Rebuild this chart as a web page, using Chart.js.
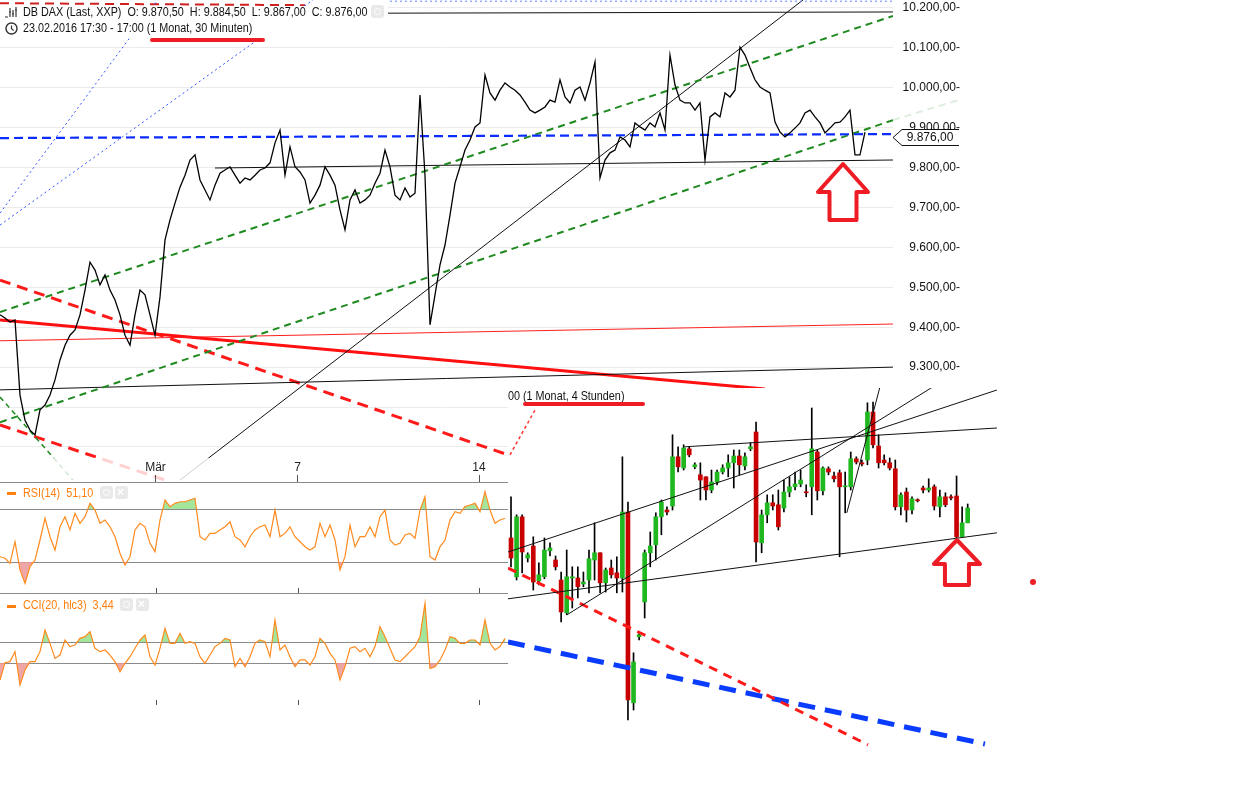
<!DOCTYPE html>
<html>
<head>
<meta charset="utf-8">
<script src="https://cdn.jsdelivr.net/npm/chart.js@4.4.0/dist/chart.umd.min.js"></script>
<style>
body{margin:0;background:#fff;width:1234px;height:812px;overflow:hidden;font-family:"Liberation Sans",Arial,sans-serif;position:relative;}
canvas{position:absolute;}
.t{position:absolute;font-size:12px;line-height:14px;color:#111;white-space:pre;transform:scaleX(0.9);transform-origin:left center;}
.o{color:#ff7f0e;}
.ic{position:absolute;width:13px;height:13px;background:#e9e9e9;border-radius:3px;}
.ic i{position:absolute;left:3px;top:3px;width:5px;height:5px;border:1.5px solid #fff;border-radius:50%;}
.ic b{position:absolute;left:2px;top:0;color:#fff;font-size:12px;line-height:13px;font-weight:bold;}
.dash{position:absolute;width:9px;height:3px;background:#ff7f0e;}
.ul{position:absolute;height:4px;background:#ee1c24;border-radius:2px;}
</style>
</head>
<body>
<canvas id="main" width="960" height="482" style="left:0;top:0"></canvas>
<canvas id="rsi" width="508" height="135" style="left:0;top:458px"></canvas>
<canvas id="cci" width="508" height="112" style="left:0;top:593px"></canvas>
<canvas id="inset" width="492" height="362" style="left:508px;top:388px;background:#fff"></canvas>

<div style="position:absolute;left:0;top:6px;width:388px;height:32px;background:#fff"></div>
<svg style="position:absolute;left:4px;top:5px" width="16" height="14"><path d="M1 12h3M6 3v9M9 5v7M12 2v10M5 7h2M8 9h2M11 5h2" stroke="#333" stroke-width="1.2" fill="none"/></svg>
<div class="t" style="left:23px;top:5px">DB DAX (Last, XXP)  O: 9.870,50  H: 9.884,50  L: 9.867,00  C: 9.876,00</div>
<div class="ic" style="left:371px;top:5px"><i></i></div>
<svg style="position:absolute;left:4px;top:21px" width="15" height="15"><circle cx="7.5" cy="7.5" r="5.5" stroke="#333" stroke-width="1.4" fill="none"/><path d="M7.5 4.5v3.3l2.2 1.6" stroke="#333" stroke-width="1.2" fill="none"/></svg>
<div class="t" style="left:23px;top:21px">23.02.2016 17:30 - 17:00 (1 Monat, 30 Minuten)</div>
<div class="ul" style="left:150px;top:38px;width:115px"></div>

<div class="dash" style="left:7px;top:492px"></div>
<div class="t o" style="left:23px;top:486px">RSI(14)  51,10</div>
<div class="ic" style="left:100px;top:486px"><i></i></div>
<div class="ic" style="left:115px;top:486px"><b>×</b></div>

<div class="dash" style="left:7px;top:605px"></div>
<div class="t o" style="left:23px;top:598px">CCI(20, hlc3)  3,44</div>
<div class="ic" style="left:120px;top:598px"><i></i></div>
<div class="ic" style="left:136px;top:598px"><b>×</b></div>

<div style="position:absolute;left:508px;top:388px;width:140px;height:16px;overflow:hidden">
  <div class="t" style="left:-3px;top:1px">:00 (1 Monat, 4 Stunden)</div>
</div>
<div class="ul" style="left:523px;top:402px;width:122px"></div>
<div style="position:absolute;left:1030px;top:579px;width:6px;height:6px;border-radius:50%;background:#ee1c24"></div>

<script>
// 30-minute closes, DB DAX (one value per plotted step)
const priceClose = [
  9431, 9423, 9413, 9418, 9230, 9167, 9142, 9130, 9193, 9205,
  9230, 9268, 9318, 9355, 9380, 9393, 9431, 9493, 9563, 9543,
  9506, 9531, 9493, 9468, 9431, 9380, 9355, 9431, 9493, 9481,
  9431, 9380, 9476, 9619, 9669, 9711, 9751, 9781, 9819, 9832,
  9769, 9744, 9719, 9756, 9786, 9794, 9802, 9781, 9761, 9774,
  9769, 9781, 9794, 9799, 9812, 9862, 9894, 9781, 9852, 9802,
  9789, 9769, 9711, 9731, 9756, 9802, 9781, 9756, 9694, 9644,
  9719, 9744, 9711, 9719, 9731, 9761, 9786, 9844, 9802, 9731,
  9719, 9749, 9726, 9736, 9982, 9781, 9406, 9481, 9556, 9606,
  9681, 9761, 9802, 9844, 9869, 9902, 9912, 10032, 9987, 9969,
  9994, 10012, 10002, 9994, 9982, 9964, 9944, 9937, 9944, 9952,
  9969, 9964, 10020, 9977, 9962, 9994, 10002, 9969, 10012, 10065,
  9774, 9819, 9837, 9844, 9877, 9869, 9852, 9912, 9902, 9894,
  9912, 9902, 9937, 9894, 10082, 10007, 9969, 9962, 9962, 9944,
  9962, 9819, 9927, 9937, 9927, 9987, 9977, 9994, 10102, 10082,
  10050, 10020, 10002, 9994, 9987, 9914, 9889, 9877, 9887, 9899,
  9912, 9937, 9944, 9927, 9912, 9887, 9899, 9912, 9914, 9927,
  9944, 9832, 9832, 9889
];
const priceTicks = [9100, 9200, 9300, 9400, 9500, 9600, 9700, 9800, 9900, 10000, 10100, 10200];
const lastPrice = 9876;

// drawn lines on the 30-min chart: [barFrom, priceFrom, barTo, priceTo]
const mainTrend = [
  [77.6, 10187, 178.6, 10190],
  [0, 9686, 40, 10363],
  [0, 9656, 70, 10287],
  [78, 10217, 178.6, 10217],
  [0, 10212, 61, 10207],
  [0, 9874, 178.6, 9884],
  [0, 9438, 178.6, 10180],
  [0, 9162, 178.6, 9919],
  [178.6, 9919, 191.6, 9969],
  [0, 9225, 14.6, 9017],
  [36, 9017, 160.6, 10220],
  [43, 9799, 178.6, 9819],
  [0, 9243, 178.6, 9300],
  [0, 9366, 178.6, 9408],
  [0, 9418, 153, 9245],
  [0, 9518, 101.6, 9080],
  [0, 9155, 33, 9017]
];
const mainTrendStyle = [
  {color: '#111', width: 1},
  {color: '#3355ff', width: 1, dash: [2, 3]},
  {color: '#3355ff', width: 1, dash: [2, 3]},
  {color: '#6680ff', width: 1, dash: [2, 3]},
  {color: '#d02020', width: 2, dash: [9, 6]},
  {color: '#0a2cff', width: 2.2, dash: [9, 5]},
  {color: '#1f8a1f', width: 2, dash: [7, 5]},
  {color: '#1f8a1f', width: 2, dash: [7, 5]},
  {color: 'rgba(31,138,31,0.15)', width: 2, dash: [7, 5], clip: false},
  {color: '#1f8a1f', width: 1.5, dash: [5, 4]},
  {color: '#111', width: 1},
  {color: '#111', width: 1},
  {color: '#111', width: 1},
  {color: '#ff2020', width: 1},
  {color: '#ff1010', width: 3},
  {color: '#ff1a1a', width: 3, dash: [11, 7]},
  {color: '#ff1a1a', width: 3, dash: [11, 7]}
];
const mainArrowTip = {x: 168.6, y: 9809};

// indicators (same time steps as the lower panels)
const rsiValues = [
  34, 32.8, 29, 45.3, 24, 13.9, 26.5, 31.5, 46.6, 63,
  49.1, 39, 56.6, 64.2, 54.2, 66.7, 59.2, 64.2, 74.3, 69.2,
  59.2, 61.7, 56.6, 49.1, 36.6, 27.7, 34, 54.2, 59.2, 56.6,
  44.1, 37.8, 61.7, 76.8, 71.8, 74.3, 75.5, 75.5, 76.8, 78.1,
  49.1, 46.6, 51.6, 51.6, 54.2, 56.6, 60.4, 49.1, 46.6, 41.5,
  49.1, 54.2, 56.6, 57.9, 49.1, 69.2, 49.1, 51.6, 56.6, 49.1,
  45.3, 41.5, 39, 41.5, 59.2, 49.1, 57.9, 46.6, 24, 34,
  57.9, 41.5, 49.1, 49.1, 56.6, 49.1, 64.2, 69.2, 46.6, 42.8,
  44.1, 50.4, 51.6, 47.9, 69.2, 79.3, 34, 31.5, 41.5, 46.6,
  61.7, 68, 66.7, 71.8, 73, 74.3, 68, 83.1, 69.2, 59.2,
  61.7, 63
];
const cciValues = [
  -262, -97, -87, 8, -310, -167, -87, -87, 8, 214,
  87, -56, -24, 119, 56, 71, 135, 151, 198, 40,
  8, 24, -24, -87, -183, -103, -40, 40, 119, 167,
  -40, -119, 40, 230, 87, 87, 183, 87, 103, 87,
  -40, -103, -24, 56, 87, 135, 119, -135, -56, -135,
  -40, 87, 119, 103, -40, 310, 24, 71, -40, -135,
  -71, -71, -119, -40, 135, 87, -8, -71, -262, -135,
  40, 56, 8, 40, -40, 56, 246, 151, 40, -71,
  -87, -40, 8, 56, 151, 468, -152, -135, -71, 24,
  151, 135, 87, 87, 119, 119, 71, 310, 87, 24,
  56, 135
];
const timeTicks = [31.1, 59.5, 95.8];
const timeTickLabels = ['Mär', '7', '14'];

// 4-hour candles (inset)
const insetOpen = [
  9855, 9758, 9908, 9805, 9835, 9748, 9758, 9823, 9800, 9750,
  9668, 9755, 9755, 9740, 9750, 9800, 9818, 9743, 9780, 9768,
  9755, 9920, 9443, 9608, 9695, 9818, 9838, 9908, 9925, 9935,
  10058, 10030, 10078, 10033, 10013, 10008, 9975, 9995, 10020, 10030,
  10043, 10060, 10035, 10078, 10120, 9843, 9913, 9943, 9938, 9930,
  9970, 9983, 9990, 9970, 9983, 10070, 9973, 10028, 10010, 10018,
  9983, 9983, 10053, 10043, 10050, 10170, 10085, 10050, 10043, 10028,
  9933, 9970, 9925, 9950, 9980, 9975, 9983, 9933, 9958, 9958,
  9960, 9858, 9893
];
const insetHigh = [
  9958, 9913, 9913, 9818, 9858, 9793, 9855, 9843, 9810, 9770,
  9825, 9783, 9783, 9770, 9825, 9893, 9818, 9780, 9800, 9808,
  10058, 9945, 9568, 9618, 9825, 9870, 9918, 9950, 9933, 10113,
  10083, 10088, 10083, 10043, 10043, 10008, 10025, 10025, 10038, 10063,
  10075, 10075, 10068, 10093, 10145, 9925, 9963, 9963, 9975, 10000,
  10008, 10020, 10025, 9988, 10180, 10075, 10033, 10033, 10020, 10025,
  10020, 10070, 10058, 10050, 10193, 10195, 10113, 10063, 10055, 10050,
  9968, 9980, 9958, 9953, 9985, 10003, 9988, 9975, 9968, 9963,
  10010, 9933, 9940
];
const insetLow = [
  9783, 9750, 9768, 9795, 9725, 9738, 9753, 9810, 9775, 9645,
  9663, 9680, 9705, 9733, 9718, 9750, 9718, 9720, 9755, 9718,
  9720, 9400, 9425, 9600, 9655, 9783, 9800, 9863, 9913, 9925,
  10020, 10025, 10058, 10028, 9950, 9950, 9968, 9988, 10015, 10008,
  9980, 10013, 10025, 10073, 9795, 9818, 9893, 9925, 9875, 9920,
  9958, 9975, 9983, 9958, 9913, 9950, 9963, 10013, 9995, 9808,
  9918, 9975, 10040, 10035, 10038, 10080, 10030, 10038, 10025, 9925,
  9913, 9895, 9915, 9945, 9968, 9970, 9925, 9908, 9933, 9950,
  9855, 9858, 9893
];
const insetClose = [
  9805, 9908, 9820, 9813, 9745, 9763, 9825, 9830, 9783, 9670,
  9758, 9758, 9733, 9745, 9803, 9818, 9743, 9775, 9763, 9755,
  9920, 9450, 9545, 9613, 9818, 9835, 9908, 9945, 9920, 10058,
  10033, 10080, 10063, 10038, 10000, 9975, 9995, 10020, 10030, 10043,
  10060, 10038, 10058, 10083, 9845, 9913, 9943, 9935, 9883, 9970,
  9983, 9990, 10000, 9968, 10078, 9973, 10030, 10020, 10003, 9983,
  9985, 10053, 10045, 10040, 10170, 10088, 10043, 10043, 10030, 9933,
  9963, 9925, 9953, 9948, 9975, 9980, 9935, 9958, 9938, 9955,
  9858, 9893, 9930
];
// drawn lines on the 4-hour chart: [candleFrom, priceFrom, candleTo, priceTo]
const insetTrend = [
  [-0.54, 9820, 87.25, 10225],
  [31.2, 10083, 87.25, 10130],
  [10.05, 9663, 75.76, 10233],
  [60.3, 9918, 66.25, 10233],
  [-0.54, 9703, 87.25, 9868],
  [-0.54, 9780, 64.1, 9338],
  [-0.54, 9595, 85.1, 9340],
  [-0.18, 10063, 4.31, 10175]
];
const insetTrendStyle = [
  {color: '#111', width: 1},
  {color: '#111', width: 1},
  {color: '#111', width: 1},
  {color: '#111', width: 1},
  {color: '#111', width: 1},
  {color: '#ff1a1a', width: 3, dash: [9, 7]},
  {color: '#0a3cff', width: 5, dash: [17, 10]},
  {color: '#ff3030', width: 1.5, dash: [3, 3]}
];
const insetArrowTip = {x: 80.07, y: 9850};

Chart.defaults.font.family = '"Liberation Sans", Arial, sans-serif';
Chart.defaults.font.size = 12;

function deFmt(v) {
  const p = v.toFixed(2).split('.');
  return p[0].replace(/\B(?=(\d{3})+(?!\d))/g, '.') + ',' + p[1];
}

function lineSets(trend, styles) {
  return trend.map((t, i) => {
    const s = styles[i];
    const ds = {
      type: 'line',
      data: [{x: t[0], y: t[1]}, {x: t[2], y: t[3]}],
      borderColor: s.color,
      borderWidth: s.width,
      borderDash: s.dash || [],
      pointRadius: 0,
      fill: false,
      order: 0
    };
    if (s.clip === false) ds.clip = false;
    return ds;
  });
}

function upArrow(ctx, x, y, headW, shaftW, headH, totalH) {
  ctx.save();
  ctx.beginPath();
  ctx.moveTo(x, y);
  ctx.lineTo(x + headW, y + headH);
  ctx.lineTo(x + shaftW, y + headH);
  ctx.lineTo(x + shaftW, y + totalH);
  ctx.lineTo(x - shaftW, y + totalH);
  ctx.lineTo(x - shaftW, y + headH);
  ctx.lineTo(x - headW, y + headH);
  ctx.closePath();
  ctx.fillStyle = '#fff';
  ctx.fill();
  ctx.lineWidth = 4;
  ctx.lineJoin = 'round';
  ctx.strokeStyle = '#ee1c24';
  ctx.stroke();
  ctx.restore();
}

const noise = {animation: false, responsive: false, events: [], layout: {padding: 0},
  plugins: {legend: {display: false}, tooltip: {enabled: false}}};

const noPad = s => { s.paddingTop = 0; s.paddingBottom = 0; s.paddingLeft = 0; s.paddingRight = 0; };

// ---------- main 30 min chart ----------
const mainExtras = {
  id: 'mainExtras',
  afterDraw(chart) {
    const ctx = chart.ctx, xs = chart.scales.x, ys = chart.scales.y, a = chart.chartArea;
    upArrow(ctx, xs.getPixelForValue(mainArrowTip.x), ys.getPixelForValue(mainArrowTip.y), 25, 13.5, 28, 56);
    const y = Math.round(ys.getPixelForValue(lastPrice)) + 0.5, x0 = a.right;
    ctx.save();
    ctx.beginPath();
    ctx.moveTo(x0 + 66, y - 8);
    ctx.lineTo(x0 + 9, y - 8);
    ctx.lineTo(x0, y);
    ctx.lineTo(x0 + 9, y + 8);
    ctx.lineTo(x0 + 66, y + 8);
    ctx.fillStyle = '#fff';
    ctx.fill();
    ctx.strokeStyle = '#111';
    ctx.lineWidth = 1;
    ctx.stroke();
    ctx.fillStyle = '#111';
    ctx.font = '12px "Liberation Sans", Arial, sans-serif';
    ctx.textAlign = 'center';
    ctx.textBaseline = 'middle';
    ctx.fillText(deFmt(lastPrice), x0 + 37, y + 0.5);
    ctx.restore();
  }
};

new Chart(document.getElementById('main'), {
  type: 'line',
  data: {
    datasets: [
      {
        data: priceClose.map((p, i) => ({x: i, y: p})),
        borderColor: '#000', borderWidth: 1.3, pointRadius: 0, tension: 0, order: 0
      },
      ...lineSets(mainTrend, mainTrendStyle)
    ]
  },
  options: {
    ...noise,
    scales: {
      x: {type: 'linear', display: false, min: 0, max: 178.6, afterFit: noPad},
      y: {
        position: 'right', min: 9012.1, max: 10220,
        afterBuildTicks: s => { s.ticks = priceTicks.map(v => ({value: v})); },
        afterFit: s => { s.width = 67; noPad(s); },
        ticks: {callback: v => deFmt(v) + '-', color: '#111', padding: 0, crossAlign: 'far', font: {size: 12}},
        grid: {color: '#ebebeb', drawTicks: false},
        border: {display: false}
      }
    }
  },
  plugins: [mainExtras]
});

// ---------- RSI ----------
const panelTicks = {
  id: 'panelTicks',
  beforeDraw(chart, args, opts) {
    if (opts.fade) {
      const ctx = chart.ctx;
      ctx.save();
      ctx.fillStyle = 'rgba(255,255,255,0.8)';
      ctx.fillRect(0, 0, chart.width, chart.chartArea.top);
      ctx.restore();
    }
  },
  afterDraw(chart) {
    const ctx = chart.ctx, xs = chart.scales.x, a = chart.chartArea;
    ctx.save();
    ctx.strokeStyle = '#555';
    ctx.lineWidth = 1;
    timeTicks.forEach(v => {
      const x = Math.round(xs.getPixelForValue(v)) + 0.5;
      ctx.beginPath();
      ctx.moveTo(x, a.bottom - 5);
      ctx.lineTo(x, a.bottom);
      ctx.stroke();
    });
    ctx.restore();
  }
};

const rsiPts = rsiValues.map((v, i) => ({x: i, y: v}));
new Chart(document.getElementById('rsi'), {
  type: 'line',
  data: {
    datasets: [
      {data: rsiPts, borderColor: '#ff8a1e', borderWidth: 1.2, pointRadius: 0,
        fill: {target: {value: 70}, above: 'rgba(140,222,130,0.8)', below: 'rgba(0,0,0,0)'}},
      {data: rsiPts, borderColor: 'rgba(0,0,0,0)', borderWidth: 0, pointRadius: 0,
        fill: {target: {value: 30}, above: 'rgba(0,0,0,0)', below: 'rgba(236,150,150,0.85)'}}
    ]
  },
  options: {
    ...noise,
    plugins: {...noise.plugins, panelTicks: {fade: true}},
    scales: {
      x: {
        type: 'linear', position: 'top', min: 0, max: 101.6,
        afterBuildTicks: s => { s.ticks = timeTicks.map(v => ({value: v})); },
        afterFit: s => { s.height = 24; },
        ticks: {callback: (v, i) => timeTickLabels[i], color: '#222', padding: 0, maxRotation: 0, autoSkip: false, font: {size: 12}},
        grid: {drawOnChartArea: false, tickLength: 7, color: '#555'},
        border: {display: false}
      },
      y: {
        min: 6.6, max: 90.4,
        afterBuildTicks: s => { s.ticks = [30, 70, 90.4].map(v => ({value: v})); },
        afterFit: s => { s.width = 0; noPad(s); },
        ticks: {display: false},
        grid: {color: '#8a8a8a', drawTicks: false},
        border: {display: false}
      }
    }
  },
  plugins: [panelTicks]
});

// ---------- CCI ----------
const cciPts = cciValues.map((v, i) => ({x: i, y: v}));
new Chart(document.getElementById('cci'), {
  type: 'line',
  data: {
    datasets: [
      {data: cciPts, borderColor: '#ff8a1e', borderWidth: 1.2, pointRadius: 0,
        fill: {target: {value: 100}, above: 'rgba(140,222,130,0.8)', below: 'rgba(0,0,0,0)'}},
      {data: cciPts, borderColor: 'rgba(0,0,0,0)', borderWidth: 0, pointRadius: 0,
        fill: {target: {value: -100}, above: 'rgba(0,0,0,0)', below: 'rgba(236,150,150,0.85)'}}
    ]
  },
  options: {
    ...noise,
    plugins: {...noise.plugins, panelTicks: {fade: false}},
    scales: {
      x: {type: 'linear', display: false, min: 0, max: 101.6},
      y: {
        min: -500, max: 566.7,
        afterBuildTicks: s => { s.ticks = [-100, 100, 566.7].map(v => ({value: v})); },
        afterFit: s => { s.width = 0; noPad(s); },
        ticks: {display: false},
        grid: {color: '#8a8a8a', drawTicks: false},
        border: {display: false}
      }
    }
  },
  plugins: [panelTicks]
});

// ---------- 4h candle inset ----------
const upColor = '#1fb81f', downColor = '#c80000';
const bodyData = insetOpen.map((o, k) => ({x: k, y: [Math.min(o, insetClose[k]), Math.max(o, insetClose[k])]}));
const wickData = insetLow.map((l, k) => ({x: k, y: [l, insetHigh[k]]}));
const bodyColors = insetOpen.map((o, k) => insetClose[k] >= o ? upColor : downColor);

const insetExtras = {
  id: 'insetExtras',
  afterDraw(chart) {
    const xs = chart.scales.x, ys = chart.scales.y;
    upArrow(chart.ctx, xs.getPixelForValue(insetArrowTip.x), ys.getPixelForValue(insetArrowTip.y), 23, 12, 24, 45);
  }
};

new Chart(document.getElementById('inset'), {
  type: 'bar',
  data: {
    datasets: [
      {type: 'bar', data: wickData, backgroundColor: '#000', barThickness: 1, grouped: false, order: 2},
      {type: 'bar', data: bodyData, backgroundColor: bodyColors, barThickness: 4, minBarLength: 1, grouped: false, order: 1},
      ...lineSets(insetTrend, insetTrendStyle)
    ]
  },
  options: {
    ...noise,
    scales: {
      x: {type: 'linear', display: false, min: -0.54, max: 87.8, offset: false},
      y: {display: false, min: 9325, max: 10230}
    }
  },
  plugins: [insetExtras]
});
</script>
</body>
</html>
